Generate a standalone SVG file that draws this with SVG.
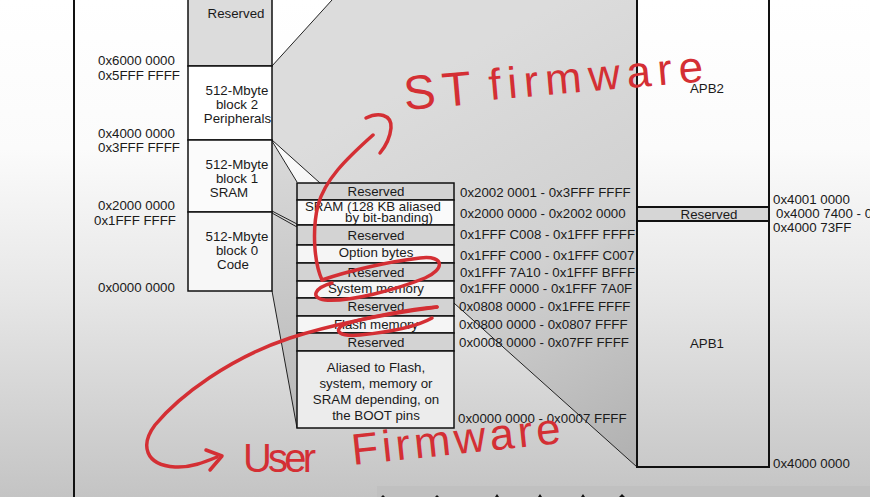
<svg xmlns="http://www.w3.org/2000/svg" width="870" height="497" viewBox="0 0 870 497">
<defs>
<linearGradient id="bg" x1="0" y1="0" x2="0" y2="497" gradientUnits="userSpaceOnUse">
<stop offset="0" stop-color="#ffffff"/><stop offset="0.3" stop-color="#fbfbfb"/><stop offset="0.6" stop-color="#e6e6e6"/><stop offset="1" stop-color="#c4c4c4"/>
</linearGradient>
<linearGradient id="gr" x1="420" y1="80" x2="636" y2="466" gradientUnits="userSpaceOnUse">
<stop offset="0" stop-color="#dcdcdc"/><stop offset="0.5" stop-color="#d0d0d0"/><stop offset="1" stop-color="#b0b0b0"/>
</linearGradient>
<linearGradient id="gl" x1="0" y1="140" x2="0" y2="428" gradientUnits="userSpaceOnUse">
<stop offset="0" stop-color="#dadada"/><stop offset="1" stop-color="#b8b8b8"/>
</linearGradient>
<style>
.t{font-family:"Liberation Sans",Arial,sans-serif;font-size:13.3px;fill:#1a1a1a}
.c{text-anchor:middle}
.b{stroke:#111;stroke-width:1.5}
.gy{fill:#d3d3d3}
.wh{fill:#f5f5f5}
.ln{stroke:#222;stroke-width:1;fill:none}
.red{fill:none;stroke:#d42f34;stroke-width:3.5;stroke-linecap:round;stroke-linejoin:round}
.hw{font-family:"Liberation Sans",Arial,sans-serif;fill:#d42f34}
</style>
</defs>
<rect width="870" height="497" fill="url(#bg)"/>
<rect x="377" y="486" width="493" height="11" fill="#c0c0c0"/>
<g fill="#111">
<path d="M381,497 l2,-2 l2,2z M435,497 l2,-2 l2,2z M495,497 l2,-3 l2,3z M538,497 l2,-3 l2,3z M581,497 l2,-3 l2,3z M619,497 l3,-3 l3,3z"/>
</g>
<line x1="74" y1="0" x2="74" y2="497" stroke="#111" stroke-width="2"/>

<g id="regions">
<polygon points="272,66 332,0 637,0 637,467 272,140" fill="url(#gr)"/>
<polygon points="272,142 297,182 297,428 272,291" fill="url(#gl)"/>
</g>

<g id="connectors">
<line class="ln" x1="272" y1="66" x2="332" y2="0"/>
<line class="ln" x1="272" y1="140" x2="637" y2="467"/>
<line class="ln" x1="272" y1="141" x2="297" y2="182"/>
<line class="ln" x1="272" y1="211" x2="297" y2="224"/>
<line class="ln" x1="272" y1="213" x2="297" y2="227"/>
<line class="ln" x1="272" y1="291" x2="297" y2="428"/>
</g>

<g id="left-reserved"><rect class="b" x="188" y="-2" width="84" height="68" fill="#dcdcdc"/><text class="t c" x="236" y="18">Reserved</text></g>
<g id="block2"><rect class="b" x="188" y="66" width="84" height="74" fill="#ffffff"/><text class="t c" x="237" y="95">512-Mbyte</text><text class="t c" x="237" y="109">block 2</text><text class="t c" x="237.5" y="123">Peripherals</text></g>
<g id="block1"><rect class="b" x="188" y="140" width="84" height="72" fill="#fbfbfb"/><text class="t c" x="237" y="169">512-Mbyte</text><text class="t c" x="237" y="183">block 1</text><text class="t c" x="229" y="197">SRAM</text></g>
<g id="block0"><rect class="b" x="188" y="212" width="84" height="79" fill="#f7f7f7"/><text class="t c" x="237" y="241">512-Mbyte</text><text class="t c" x="237" y="255">block 0</text><text class="t c" x="233" y="269">Code</text></g>

<g id="left-addresses">
<text class="t" x="98" y="65">0x6000 0000</text>
<text class="t" x="98" y="80">0x5FFF FFFF</text>
<text class="t" x="98" y="138">0x4000 0000</text>
<text class="t" x="98" y="152">0x3FFF FFFF</text>
<text class="t" x="98" y="210">0x2000 0000</text>
<text class="t" x="94" y="225">0x1FFF FFFF</text>
<text class="t" x="98" y="292">0x0000 0000</text>
</g>

<g id="mid-column">
<g id="r1"><rect class="b gy" x="297" y="183" width="157" height="17"/><text class="t c" x="376" y="196">Reserved</text></g>
<g id="r2"><rect class="b" x="297" y="200" width="157" height="25" fill="#fafafa"/><text class="t" x="305" y="211">SRAM (128 KB aliased</text><text class="t" x="345" y="222">by bit-banding)</text></g>
<g id="r3"><rect class="b gy" x="297" y="225" width="157" height="20"/><text class="t c" x="376" y="240">Reserved</text></g>
<g id="r4"><rect class="b wh" x="297" y="245" width="157" height="18"/><text class="t c" x="376" y="257">Option bytes</text></g>
<g id="r5"><rect class="b gy" x="297" y="263" width="157" height="18"/><text class="t c" x="376" y="277">Reserved</text></g>
<g id="r6"><rect class="b wh" x="297" y="281" width="157" height="17"/><text class="t c" x="376" y="293">System memory</text></g>
<g id="r7"><rect class="b gy" x="297" y="298" width="157" height="18"/><text class="t c" x="376" y="311">Reserved</text></g>
<g id="r8"><rect class="b wh" x="297" y="316" width="157" height="17"/><text class="t c" x="376" y="329">Flash memory</text></g>
<g id="r9"><rect class="b gy" x="297" y="333" width="157" height="18"/><text class="t c" x="376" y="347">Reserved</text></g>
<g id="r10"><rect class="b" x="297" y="351" width="157" height="77" fill="#ececec"/><text class="t c" x="376" y="372">Aliased to Flash,</text><text class="t c" x="376" y="388">system, memory or</text><text class="t c" x="376" y="404">SRAM depending, on</text><text class="t c" x="376" y="420">the BOOT pins</text></g>
</g>

<g id="mid-addresses">
<text class="t" x="460" y="197">0x2002 0001 - 0x3FFF FFFF</text>
<text class="t" x="460" y="218">0x2000 0000 - 0x2002 0000</text>
<text class="t" x="460" y="239">0x1FFF C008 - 0x1FFF FFFF</text>
<text class="t" x="460" y="260">0x1FFF C000 - 0x1FFF C007</text>
<text class="t" x="460" y="277">0x1FFF 7A10 - 0x1FFF BFFF</text>
<text class="t" x="460" y="293">0x1FFF 0000 - 0x1FFF 7A0F</text>
<text class="t" x="459" y="311">0x0808 0000 - 0x1FFE FFFF</text>
<text class="t" x="459" y="329">0x0800 0000 - 0x0807 FFFF</text>
<text class="t" x="459" y="347">0x0008 0000 - 0x07FF FFFF</text>
<text class="t" x="458" y="423">0x0000 0000 - 0x0007 FFFF</text>
</g>

<g id="apb">
<rect x="637" y="-2" width="132" height="469" fill="none" stroke="#111" stroke-width="2"/>
<g id="apb-reserved"><rect x="637" y="207" width="132" height="14" fill="#d6d6d6" stroke="#111" stroke-width="2"/><text class="t c" x="709" y="219">Reserved</text></g>
<text class="t c" x="707" y="93">APB2</text>
<text class="t c" x="707" y="348">APB1</text>
</g>

<g id="right-addresses">
<text class="t" x="773" y="204">0x4001 0000</text>
<text class="t" x="776" y="218">0x4000 7400 - 0</text>
<text class="t" x="773" y="232">0x4000 73FF</text>
<text class="t" x="773" y="468">0x4000 0000</text>
</g>

<g id="annotations">
<path class="red" d="M322,280 C314,262 312,230 318,205 C325,180 345,160 373,135"/>
<path class="red" d="M366,118 C378,112 392,114 391,128 C390,138 385,147 380,153"/>
<path class="red" d="M322,280 C345,272 385,262 420,258 C446,255 444,270 425,278 C395,290 350,302 325,300 C310,298 314,288 332,283"/>
<path class="red" d="M437,307 C410,309 362,318 343,325 C333,331 340,337 360,335 C390,332 418,326 432,318"/>
<path class="red" d="M437,307 C400,312 340,322 290,338 C230,358 180,395 155,425 C140,445 145,465 175,467 C190,468 205,462 217,457"/>
<path class="red" d="M206,450 L222,456 L210,470"/>
<text class="hw" x="405" y="110" font-size="48" textLength="68" lengthAdjust="spacing" transform="rotate(-5 405 110)">ST</text>
<text class="hw" x="490" y="100" font-size="44" textLength="215" lengthAdjust="spacing" transform="rotate(-5 490 100)">firmware</text>
<text class="hw" x="243" y="472" font-size="40" textLength="73" lengthAdjust="spacing">User</text>
<text class="hw" x="353" y="465" font-size="44" textLength="210" lengthAdjust="spacing" transform="rotate(-6 353 465)">Firmware</text>
</g>
</svg>
